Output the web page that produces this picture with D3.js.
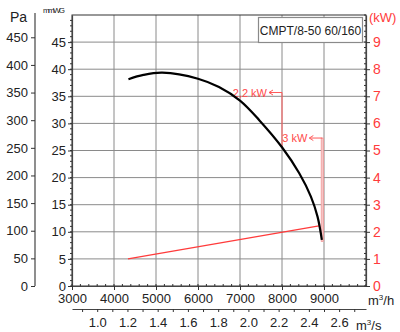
<!DOCTYPE html>
<html><head><meta charset="utf-8">
<script src="https://cdn.jsdelivr.net/npm/d3@7"></script>
<style>
body{margin:0;background:#fff;}
text{font-family:"Liberation Sans",Arial,sans-serif;}
</style></head>
<body><svg id="c" width="400" height="332"></svg>
<script>
// ---- data ----
const curveFlow = [4344, 4700, 5150, 6000, 6500, 7000, 7458, 8000, 8411, 8688, 8846, 8949];
const curvePressure = [38.16, 38.95, 39.35, 38.25, 36.7, 34.2, 30.6, 25.6, 20.8, 16.5, 12.8, 8.5]; // mmWG
const powerFlow = [4333, 8880];
const powerKW = [1.0, 2.22];
const flowTicks = [3000, 4000, 5000, 6000, 7000, 8000, 9000];
const m3sTicks = [1.0, 1.2, 1.4, 1.6, 1.8, 2.0, 2.2, 2.4, 2.6];
const mmTicks = [0, 5, 10, 15, 20, 25, 30, 35, 40, 45];
const paTicks = [0, 50, 100, 150, 200, 250, 300, 350, 400, 450];
const kwTicks = [0, 1, 2, 3, 4, 5, 6, 7, 8, 9];
const annLabels = ["2,2 kW", "3 kW"];
const annFlow = [8000, 8960];
const annTopMM = [35.7, 27.3];
const annBottomMM = [25.6, 8.2];
const modelName = "CMPT/8-50 60/160";

const svg = d3.select("#c");
const red = "#ff3b3b";
const L = 72, R = 366, T = 15, B = 286;
const x = d3.scaleLinear([3000, 10000], [L, R]);
const y = d3.scaleLinear([0, 50], [B, T]);
const yPa = d3.scaleLinear([0, 50 * 9.80665], [B, T]);
const yKW = d3.scaleLinear([0, 10], [B, T]);
const xs = d3.scaleLinear([3000 / 3600, 10000 / 3600], [L, R]);

// grid
const g = svg.append("g");
g.selectAll(".vg").data(d3.range(4000, 10000, 1000)).join("line")
  .attr("x1", d => x(d)).attr("x2", d => x(d)).attr("y1", T).attr("y2", B)
  .attr("stroke", "#8a8a8a").attr("stroke-width", 1);
g.selectAll(".hg").data(d3.range(5, 50, 5)).join("line")
  .attr("x1", L).attr("x2", R).attr("y1", d => y(d)).attr("y2", d => y(d))
  .attr("stroke", "#8a8a8a").attr("stroke-width", 1);
svg.append("rect").attr("x", L).attr("y", T).attr("width", R - L).attr("height", B - T)
  .attr("fill", "none").attr("stroke", "#333").attr("stroke-width", 1);

function styleAxis(sel, color, fs) {
  sel.selectAll("path").attr("stroke", "#444").attr("stroke-width", 1.2);
  sel.selectAll("line").attr("stroke", "#333");
  sel.selectAll("text").attr("font-size", fs).attr("fill", color).attr("font-family", "Liberation Sans, Arial, sans-serif");
}

// Pa axis
const aPa = svg.append("g").attr("transform", "translate(35,0)")
  .call(d3.axisLeft(yPa).tickValues(paTicks).tickSize(4).tickSizeOuter(0).tickPadding(3));
styleAxis(aPa, "#222", 13);
aPa.select("path").attr("d", `M0,${B}V13`);
svg.append("text").attr("x", 10).attr("y", 22).attr("font-size", 14).attr("fill", "#222").text("Pa");

// mmWG axis
const aMM = svg.append("g").attr("transform", `translate(${L},0)`)
  .call(d3.axisLeft(y).tickValues(mmTicks).tickSize(4).tickSizeOuter(0).tickPadding(2));
styleAxis(aMM, "#222", 13);
svg.append("g").selectAll("line").data(d3.range(0, 50, 1)).join("line")
  .attr("x1", L - 2).attr("x2", L).attr("y1", d => y(d)).attr("y2", d => y(d)).attr("stroke", "#333");
svg.append("text").attr("x", 43).attr("y", 13).attr("font-size", 8).attr("fill", "#222")
  .attr("textLength", 22).text("mmWG");

// bottom m3/h axis
const aX = svg.append("g").attr("transform", `translate(0,${B})`)
  .call(d3.axisBottom(x).tickValues(flowTicks).tickFormat(d3.format("d")).tickSize(4).tickSizeOuter(0).tickPadding(4));
styleAxis(aX, "#222", 13);
svg.append("g").selectAll("line").data(d3.range(3000, 10001, 200)).join("line")
  .attr("x1", d => x(d)).attr("x2", d => x(d)).attr("y1", B - 2).attr("y2", B).attr("stroke", "#333");
const mh = svg.append("text").attr("x", 368).attr("y", 305).attr("font-size", 13).attr("fill", "#222");
mh.append("tspan").text("m");
mh.append("tspan").attr("font-size", 8).attr("dy", -5).text("3");
mh.append("tspan").attr("dy", 5).text("/h");

// m3/s axis
const aS = svg.append("g").attr("transform", "translate(0,309)")
  .call(d3.axisBottom(xs).tickValues(d3.range(9, 28).map(d => d / 10)).tickSize(3).tickSizeOuter(0).tickPadding(6)
    .tickFormat(d => m3sTicks.some(v => Math.abs(v - d) < 1e-9) ? d3.format(".1f")(d) : ""));
styleAxis(aS, "#222", 13);
const ms = svg.append("text").attr("x", 356).attr("y", 330).attr("font-size", 13).attr("fill", "#222");
ms.append("tspan").text("m");
ms.append("tspan").attr("font-size", 8).attr("dy", -5).text("3");
ms.append("tspan").attr("dy", 5).text("/s");

// kW axis
const aK = svg.append("g").attr("transform", `translate(${R},0)`)
  .call(d3.axisRight(yKW).tickValues(kwTicks).tickSize(4).tickSizeOuter(0).tickPadding(3));
styleAxis(aK, red, 14);
svg.append("g").selectAll("line").data(d3.range(0, 10.01, 0.2)).join("line")
  .attr("x1", R - 2).attr("x2", R).attr("y1", d => yKW(d)).attr("y2", d => yKW(d)).attr("stroke", "#333");
svg.append("text").attr("x", 369).attr("y", 22).attr("font-size", 13).attr("fill", red).text("(kW)");

// legend box
svg.append("rect").attr("x", 258.5).attr("y", 17.5).attr("width", 104).attr("height", 25)
  .attr("fill", "#fff").attr("stroke", "#8a8a8a").attr("stroke-width", 1.2);
svg.append("text").attr("x", 310.5).attr("y", 34.5).attr("text-anchor", "middle")
  .attr("font-size", 12).attr("fill", "#222").text(modelName);

// power line
svg.append("path").datum(powerFlow.map((f, i) => [f, powerKW[i]]))
  .attr("d", d3.line().x(d => x(d[0])).y(d => yKW(d[1])))
  .attr("fill", "none").attr("stroke", red).attr("stroke-width", 1.3);

// annotations
annLabels.forEach((lab, i) => {
  const ax = x(annFlow[i]), yt = y(annTopMM[i]), yb = y(annBottomMM[i]);
  if (i === 0) {
    svg.append("line").attr("x1", ax).attr("x2", ax).attr("y1", yt).attr("y2", yb)
      .attr("stroke", "#ff5a5a").attr("stroke-width", 1);
  } else {
    svg.append("rect").attr("x", ax - 1.2).attr("y", yt).attr("width", 2.4).attr("height", yb - yt)
      .attr("fill", "#f6c4c4").attr("stroke", "#f08a8a").attr("stroke-width", 0.6);
  }
  svg.append("line").attr("x1", ax).attr("x2", ax - 13).attr("y1", yt).attr("y2", yt)
    .attr("stroke", "#ff5a5a").attr("stroke-width", 1);
  svg.append("path").attr("d", `M${ax - 9},${yt - 2.5}L${ax - 13},${yt}L${ax - 9},${yt + 2.5}`)
    .attr("fill", "none").attr("stroke", "#ff5a5a").attr("stroke-width", 1);
  svg.append("text").attr("x", ax - 15).attr("y", yt + 4).attr("text-anchor", "end")
    .attr("font-size", 11).attr("fill", "#ff4a4a").text(lab);
});

// fan curve
svg.append("path").datum(curveFlow.map((f, i) => [f, curvePressure[i]]))
  .attr("d", d3.line().x(d => x(d[0])).y(d => y(d[1])).curve(d3.curveCatmullRom.alpha(0.5)))
  .attr("fill", "none").attr("stroke", "#000").attr("stroke-width", 2.2);
</script></body></html>
